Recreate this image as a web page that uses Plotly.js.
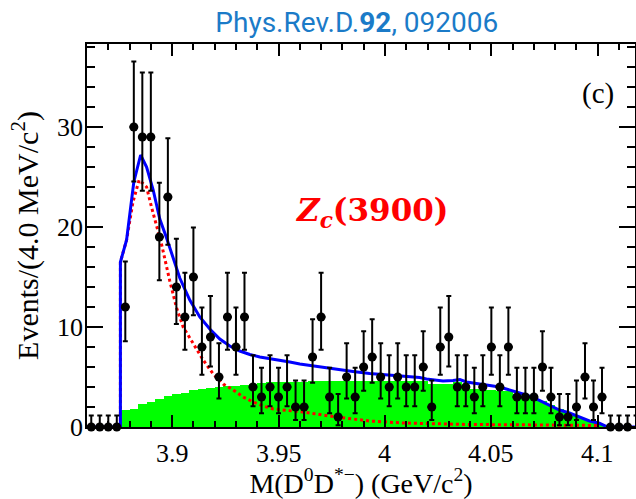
<!DOCTYPE html>
<html>
<head>
<meta charset="utf-8">
<script src="https://cdn.plot.ly/plotly-3.0.1.min.js"></script>
<style>
html,body{margin:0;padding:0;background:#fff;}
#chart{width:636px;height:499px;}
</style>
</head>
<body>
<div id="chart"></div>
<script>
// Bin centres of the M(D0 D*-) histogram (GeV/c^2), 4 MeV bins
const massBins = [3.862,3.866,3.870,3.874,3.878,3.882,3.886,3.890,3.894,3.898,
  3.902,3.906,3.910,3.914,3.918,3.922,3.926,3.930,3.934,3.938,
  3.942,3.946,3.950,3.954,3.958,3.962,3.966,3.970,3.974,3.978,
  3.982,3.986,3.990,3.994,3.998,4.002,4.006,4.010,4.014,4.018,
  4.022,4.026,4.030,4.034,4.038,4.042,4.046,4.050,4.054,4.058,
  4.062,4.066,4.070,4.074,4.078,4.082,4.086,4.090,4.094,4.098,
  4.102,4.106,4.110,4.114,4.118];
// Observed events per bin
const events = [0,0,0,0,12,30,29,29,19,23,
  14,11,15,8,9,5,11,8,11,4,
  3,4,3,4,2,2,7,11,3,1,
  5,3,6,7,5,4,5,4,4,6,
  2,8,9,4,4,3,4,8,4,8,
  3,3,3,6,3,1,1,2,5,2,
  3,0,0,0,0];
// Background histogram (green) per bin
const background = [0,0,0,0,1.67,1.83,2.33,2.5,2.83,3.1,
  3.33,3.4,3.67,3.8,3.9,4.05,4.1,4.15,4.2,4.3,
  4.45,4.5,4.5,4.5,4.55,4.55,4.6,4.65,4.65,4.65,
  4.65,4.65,4.65,4.65,4.65,4.65,4.65,4.65,4.65,4.6,
  4.3,4.3,4.3,4.5,4.0,3.8,3.7,3.7,3.6,3.6,
  3.3,3.0,3.0,2.6,2.2,1.8,1.4,1.1,0.8,0.5,
  0.2,0,0,0,0];
// Poisson (68%) error bars, indexed by number of events
const poissonPlus  = [1.15,2.300,2.638,2.918,3.163,3.382,3.584,3.770,3.945,4.110,4.266,4.416,4.559,4.697,4.830,4.958,5.083,5.204,5.321,5.436,5.549,5.659,5.766,5.871,5.974,6.075,6.174,6.271,6.367,6.461,6.553];
const poissonMinus = [0,0.827,1.292,1.633,1.914,2.160,2.380,2.581,2.768,2.943,3.109,3.266,3.415,3.559,3.697,3.830,3.960,4.085,4.208,4.324,4.434,4.547,4.656,4.764,4.870,4.972,5.074,5.174,5.271,5.367,5.451];
// Total fit (blue)
const fitMass = [3.860,3.8757,3.8757,3.8786,3.8820,3.8852,3.8880,3.8911,3.8942,3.8974,
  3.9036,3.9083,3.9130,3.9177,3.9224,3.9271,3.9318,3.9365,3.9412,3.9459,
  3.9506,3.9553,3.9600,3.9694,3.9772,3.9850,3.9928,4.0007,4.0085,4.0163,
  4.0195,4.0273,4.0320,4.0352,4.0383,4.0430,4.0477,4.0539,4.0617,4.0664,
  4.0711,4.0773,4.0820,4.0867,4.0914,4.0961,4.1008,4.1039,4.1060,4.1175];
const fitTotal = [0,0,16.5,18.7,24.5,27.2,26.0,23.7,20.8,18.9,
  14.9,12.7,11.0,9.8,8.8,8.1,7.6,7.25,7.0,6.85,
  6.65,6.5,6.3,6.0,5.8,5.55,5.35,5.2,5.05,4.95,
  4.8,4.6,4.65,4.75,4.5,4.35,4.2,4.0,3.5,3.2,
  2.8,2.2,1.7,1.4,1.0,0.6,0.37,0.07,0,0];
// Zc(3900) signal component (red dotted)
const sigMass = [3.8757,3.8757,3.8786,3.8816,3.8845,3.8880,3.8903,3.8927,3.8950,3.8989,
  3.9021,3.9052,3.9099,3.9146,3.9193,3.9240,3.9287,3.9334,3.9381,3.9428,
  3.9475,3.9614,3.9772,3.9928,4.0083,4.0241,4.0398,4.0632,4.0820,4.1008];
const sigValue = [0,16.5,18.7,22.5,24.7,24.0,22.0,20.0,18.3,14.6,
  11.9,10.0,8.3,6.7,5.3,4.3,3.7,3.0,2.5,2.1,
  1.8,1.5,1.0,0.6,0.4,0.3,0.25,0.22,0.2,0.15];
// Tick labels
const xTickVals = [3.9, 3.95, 4, 4.05, 4.1];
const xTickText = ['3.9', '3.95', '4', '4.05', '4.1'];
const yTickVals = [0, 10, 20, 30];
const yTickText = ['0', '10', '20', '30'];

const errPlus = events.map(n => poissonPlus[n]);
const errMinus = events.map(n => poissonMinus[n]);

const serif = 'Liberation Serif';
const traces = [
  {type:'bar', x: massBins, y: background, width: 0.004,
   marker:{color:'#00ff00', line:{width:0}}, hoverinfo:'skip', showlegend:false},
  {type:'scatter', mode:'lines', x: sigMass, y: sigValue,
   line:{color:'#ff0000', width:3, dash:'3px,3px'}, showlegend:false},
  {type:'scatter', mode:'lines', x: fitMass, y: fitTotal,
   line:{color:'#0000ff', width:3}, showlegend:false},
  {type:'scatter', mode:'markers', x: massBins, y: events, cliponaxis:false,
   marker:{color:'#000', size:9, symbol:'circle'},
   error_y:{type:'data', symmetric:false, array: errPlus, arrayminus: errMinus, color:'#000', thickness:2, width:2.5},
   error_x:{type:'constant', value:0.002, color:'#000', thickness:2, width:0},
   showlegend:false}
];

const tickAnn = [];
xTickVals.forEach((v, i) => tickAnn.push({
  text: xTickText[i], xref:'x', yref:'paper', x: v, y: 0, xanchor:'center', yanchor:'top',
  yshift:-10, showarrow:false, font:{family:serif, size:26, color:'#000'}}));
yTickVals.forEach((v, i) => tickAnn.push({
  text: yTickText[i], xref:'paper', yref:'y', x: 0, y: v, xanchor:'right', yanchor:'middle',
  xshift:-2, showarrow:false, font:{family:serif, size:26, color:'#000'}}));

const layout = {
  width:636, height:499,
  margin:{l:87, r:1, t:44, b:72},
  paper_bgcolor:'#fff', plot_bgcolor:'#fff',
  font:{family:serif, size:25, color:'#000'},
  bargap:0, showlegend:false,
  title:{text:'Phys.Rev.D.<b>92</b>, 092006', x:0.561, xanchor:'center', xref:'container',
         y:0.955, yanchor:'middle', yref:'container',
         font:{family:'Roboto', size:28, color:'#1b7bc8'}},
  xaxis:{range:[3.86,4.1175], tickmode:'linear', tick0:3.9, dtick:0.05,
         ticks:'inside', ticklen:12, tickwidth:2, tickcolor:'#000', showticklabels:false,
         minor:{ticks:'inside', dtick:0.01, tick0:3.9, ticklen:6, tickwidth:2, tickcolor:'#000'},
         showline:true, linewidth:2, linecolor:'#000', mirror:'allticks',
         showgrid:false, zeroline:false, automargin:false,
         title:{text:'M(D<sup>0</sup>D<sup>*−</sup>) (GeV/c<sup>2</sup>)', standoff:45,
                font:{family:serif, size:28, color:'#000'}}},
  yaxis:{range:[0,38.3], tickmode:'linear', tick0:0, dtick:10,
         ticks:'inside', ticklen:16, tickwidth:2, tickcolor:'#000', showticklabels:false,
         minor:{ticks:'inside', dtick:2, tick0:0, ticklen:8, tickwidth:2, tickcolor:'#000'},
         showline:true, linewidth:2, linecolor:'#000', mirror:'allticks',
         showgrid:false, zeroline:false, automargin:false,
         title:{text:'Events/(4.0 MeV/c<sup>2</sup>)', standoff:38,
                font:{family:serif, size:30, color:'#000'}}},
  annotations: tickAnn.concat([
    {text:'(c)', xref:'paper', yref:'paper', x:0.9325, y:0.872, xanchor:'center', yanchor:'middle',
     showarrow:false, font:{family:serif, size:29, color:'#000'}},
    {text:'<b><i>Z</i><sub><i>c</i></sub>(3900)</b>', xref:'paper', yref:'paper', x:0.52, y:0.56,
     xanchor:'center', yanchor:'middle', showarrow:false,
     font:{family:'DejaVu Serif', size:31, color:'#ff0000'}}
  ])
};

Plotly.newPlot('chart', traces, layout, {displayModeBar:false, staticPlot:true});
</script>
</body>
</html>
